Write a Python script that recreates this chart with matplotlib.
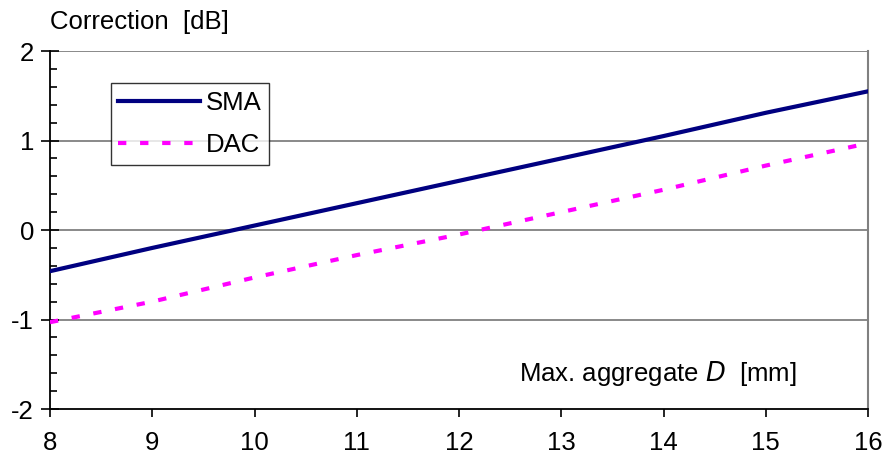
"""Correction vs. maximum aggregate size."""

from matplotlib import pyplot as plt
from matplotlib.ticker import MultipleLocator

# * DATA

aggregate_mm = [8, 9, 10, 11, 12, 13, 14, 15, 16]
sma_db = [-0.46, -0.20, 0.05, 0.30, 0.55, 0.80, 1.05, 1.31, 1.55]
dac_db = [-1.03, -0.80, -0.53, -0.28, -0.05, 0.20, 0.45, 0.72, 0.97]

x_ticks = [8, 9, 10, 11, 12, 13, 14, 15, 16]
y_ticks = [-2, -1, 0, 1, 2]

# * PLOT

plt.rcParams["font.family"] = ["Liberation Sans", "DejaVu Sans"]
plt.rcParams["axes.unicode_minus"] = False

fig = plt.figure(figsize=(8.88, 4.59), dpi=100)
ax = fig.add_axes([0.0563, 0.1089, 0.9212, 0.7799])

ax.set_xlim(8, 16)
ax.set_ylim(-2, 2)

# Gridlines at interior majors plus the top
for yv in y_ticks[1:]:
    ax.axhline(yv, color="#808080", lw=1.3, zorder=1)

(sma_line,) = ax.plot(aggregate_mm, sma_db, color="#000080", lw=3.0, label="SMA", zorder=3)
(dac_line,) = ax.plot(
    aggregate_mm, dac_db, color="#ff00ff", lw=3.0, label="DAC", zorder=3,
    dashes=(2.0, 3.3), dash_capstyle="butt",
)

# Spines
ax.spines["top"].set_visible(False)
ax.spines["right"].set_color("#808080")
ax.spines["right"].set_linewidth(1.5)
ax.spines["left"].set_linewidth(1.3)
ax.spines["bottom"].set_linewidth(1.3)

# Ticks
ax.set_xticks(x_ticks)
ax.set_yticks(y_ticks)
ax.yaxis.set_minor_locator(MultipleLocator(0.2))
ax.tick_params(axis="x", which="major", direction="out", length=6, width=1.2,
               labelsize=18.5, pad=10)
ax.tick_params(axis="y", which="major", direction="inout", length=13, width=1.2,
               labelsize=18.5, pad=5)
ax.tick_params(axis="y", which="minor", direction="in", length=5, width=1.2)

# Axis titles as free text, like the original
fig.text(0.056, 0.952, "Correction  [dB]", fontsize=18.5, ha="left", va="center")
ax.text(0.913, 0.1, "Max. aggregate $\\mathit{D}$  [mm]", transform=ax.transAxes,
        fontsize=18.5, ha="right", va="center")

leg = ax.legend(
    handles=[sma_line, dac_line],
    loc="upper left",
    bbox_to_anchor=(0.074, 0.91),
    frameon=True,
    fancybox=False,
    edgecolor="black",
    fontsize=18.5,
    handlelength=3.2,
    handletextpad=0.2,
    labelspacing=0.7,
    borderpad=0.3,
    borderaxespad=0,
)
leg.get_frame().set_linewidth(1.0)

fig.savefig("out.png", dpi=100)
